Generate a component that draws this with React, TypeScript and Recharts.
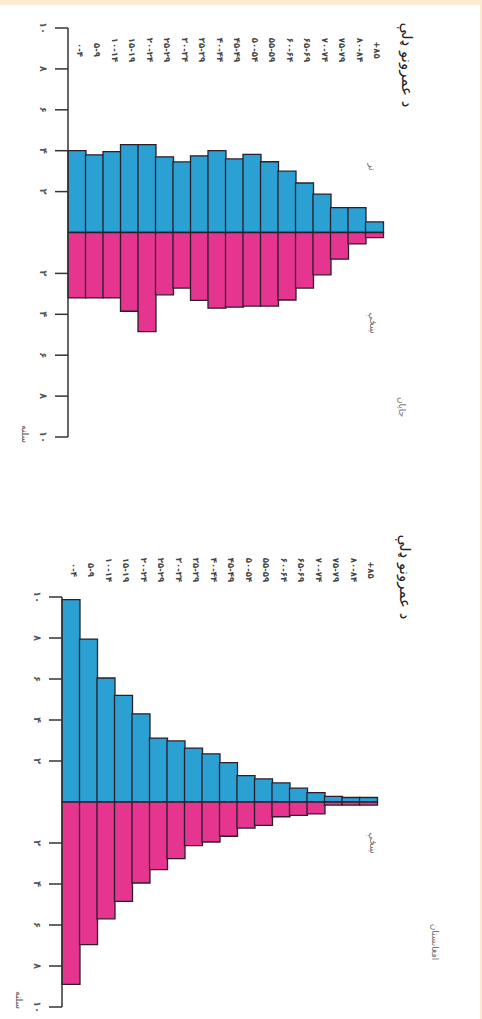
import { BarChart, Bar, XAxis, YAxis } from 'recharts';

// Age groups, youngest first (left in the rotated picture)
const ageGroups = [
  '۰\u200E-\u200E۴', '۵\u200E-\u200E۹', '۱۰\u200E-\u200E۱۴', '۱۵\u200E-\u200E۱۹', '۲۰\u200E-\u200E۲۴',
  '۲۵\u200E-\u200E۲۹', '۳۰\u200E-\u200E۳۴', '۳۵\u200E-\u200E۳۹', '۴۰\u200E-\u200E۴۴', '۴۵\u200E-\u200E۴۹',
  '۵۰\u200E-\u200E۵۴', '۵۵\u200E-\u200E۵۹', '۶۰\u200E-\u200E۶۴', '۶۵\u200E-\u200E۶۹', '۷۰\u200E-\u200E۷۴',
  '۷۵\u200E-\u200E۷۹', '۸۰\u200E-\u200E۸۴', '\u200E+۸۵',
];

// upper pyramid (constrictive)
const topMale = [4.0, 3.8, 3.95, 4.3, 4.3, 3.7, 3.45, 3.75, 4.0, 3.6, 3.82, 3.46, 3.0, 2.42, 1.88, 1.22, 1.22, 0.52];
const topFemale = [3.2, 3.2, 3.2, 3.85, 4.85, 3.05, 2.72, 3.32, 3.7, 3.65, 3.6, 3.6, 3.3, 2.72, 2.07, 1.3, 0.56, 0.25];

// lower pyramid (expansive)
const bottomMale = [9.87, 7.95, 6.05, 5.2, 4.3, 3.12, 2.98, 2.63, 2.35, 1.92, 1.29, 1.13, 0.93, 0.68, 0.46, 0.27, 0.22, 0.22];
const bottomFemale = [8.9, 6.96, 5.7, 4.85, 3.95, 3.3, 2.76, 2.13, 1.95, 1.67, 1.27, 1.14, 0.72, 0.65, 0.58, 0.15, 0.15, 0.15];

const yTicks = [10, 8, 6, 4, 2, -2, -4, -6, -8, -10];

const BLUE = '#2ba1d3';
const PINK = '#e5358f';
const EDGE = '#2b1f2c';
const FONT = '"DejaVu Sans", sans-serif';

const faDigits = '۰۱۲۳۴۵۶۷۸۹';
const toFa = (n: number) => String(Math.abs(n)).replace(/\d/g, (d) => faDigits[+d]);

type PyramidProps = {
  male: number[];
  female: number[];
  height: number;
  margin: { top: number; right: number; bottom: number; left: number };
  labelGap: number; // distance from the plot top to the centre of the age labels (negative = inside)
};

const Pyramid = ({ male, female, height, margin, labelGap }: PyramidProps) => {
  const rows = ageGroups.map((age, i) => ({ age, male: male[i], female: -female[i] }));

  const renderYTick = (props: any) => {
    const { x, y, payload } = props;
    return (
      <g transform={`translate(${x - 10},${y})`}>
        <text
          transform="rotate(90)"
          x={0}
          y={0}
          textAnchor="middle"
          dy="0.35em"
          fontSize={10}
          fontFamily={FONT}
          fontWeight="bold"
          fill="#555"
        >
          {toFa(payload.value)}
        </text>
      </g>
    );
  };

  return (
    <BarChart
      width={482}
      height={height}
      data={rows}
      margin={margin}
      stackOffset="sign"
      barCategoryGap={0}
      barGap={0}
    >
      <XAxis
        dataKey="age"
        orientation="top"
        height={20}
        axisLine={false}
        tickLine={false}
        tickSize={0}
        tickMargin={labelGap}
        interval={0}
        angle={90}
        textAnchor="middle"
        tick={{ fontSize: 8.5, fill: '#444', fontWeight: 'bold', fontFamily: FONT }}
      />
      <YAxis
        type="number"
        domain={[-10, 10]}
        ticks={yTicks}
        interval={0}
        width={40}
        tickSize={13}
        axisLine={{ stroke: '#333', strokeWidth: 1.5 }}
        tickLine={{ stroke: '#333', strokeWidth: 1.5 }}
        tick={renderYTick}
      />
      <Bar dataKey="male" stackId="p" fill={BLUE} stroke={EDGE} strokeWidth={1.3} isAnimationActive={false} />
      <Bar dataKey="female" stackId="p" fill={PINK} stroke={EDGE} strokeWidth={1.3} isAnimationActive={false} />
    </BarChart>
  );
};

const Rot = ({ x, y, size, children, color = '#222' }: any) => (
  <g transform={`translate(${x},${y})`}>
    <text transform="rotate(90)" textAnchor="middle" dy="0.35em" fontSize={size} fontFamily={FONT} fill={color}>
      {children}
    </text>
  </g>
);

export default function App() {
  return (
    <div
      style={{
        position: 'absolute',
        left: 0,
        top: 0,
        width: 482,
        height: 1019,
        background: '#fff',
        overflow: 'hidden',
      }}
    >
      <div style={{ position: 'absolute', left: 0, top: 0 }}>
        <Pyramid
          male={topMale}
          female={topFemale}
          height={480}
          margin={{ top: 8, right: 99, bottom: 43, left: 28 }}
          labelGap={-22}
        />
      </div>
      <div style={{ position: 'absolute', left: 0, top: 480 }}>
        <Pyramid
          male={bottomMale}
          female={bottomFemale}
          height={539}
          margin={{ top: 97, right: 105, bottom: 12, left: 22 }}
          labelGap={27}
        />
      </div>
      <svg width={482} height={1019} style={{ position: 'absolute', left: 0, top: 0, pointerEvents: 'none' }}>
        <Rot x={407} y={65} size={15}>د عمرونو ډلې</Rot>
        <Rot x={372} y={167} size={9} color="#666">نر</Rot>
        <Rot x={373} y={323} size={9} color="#666">ښځې</Rot>
        <Rot x={402} y={407} size={9} color="#777">جاپان</Rot>
        <Rot x={25} y={434} size={9} color="#555">سلنه</Rot>

        <Rot x={405} y={577} size={15}>د عمرونو ډلې</Rot>
        <Rot x={373} y={843} size={9} color="#666">ښځې</Rot>
        <Rot x={435} y={942} size={9} color="#777">افغانستان</Rot>
        <Rot x={19} y={1000} size={9} color="#555">سلنه</Rot>
      </svg>
      <div style={{ position: 'absolute', left: 0, top: 0, width: 482, height: 5, background: '#fcebd3' }} />
      <div style={{ position: 'absolute', right: 0, top: 0, width: 2, height: 1019, background: '#fcebd3' }} />
    </div>
  );
}
